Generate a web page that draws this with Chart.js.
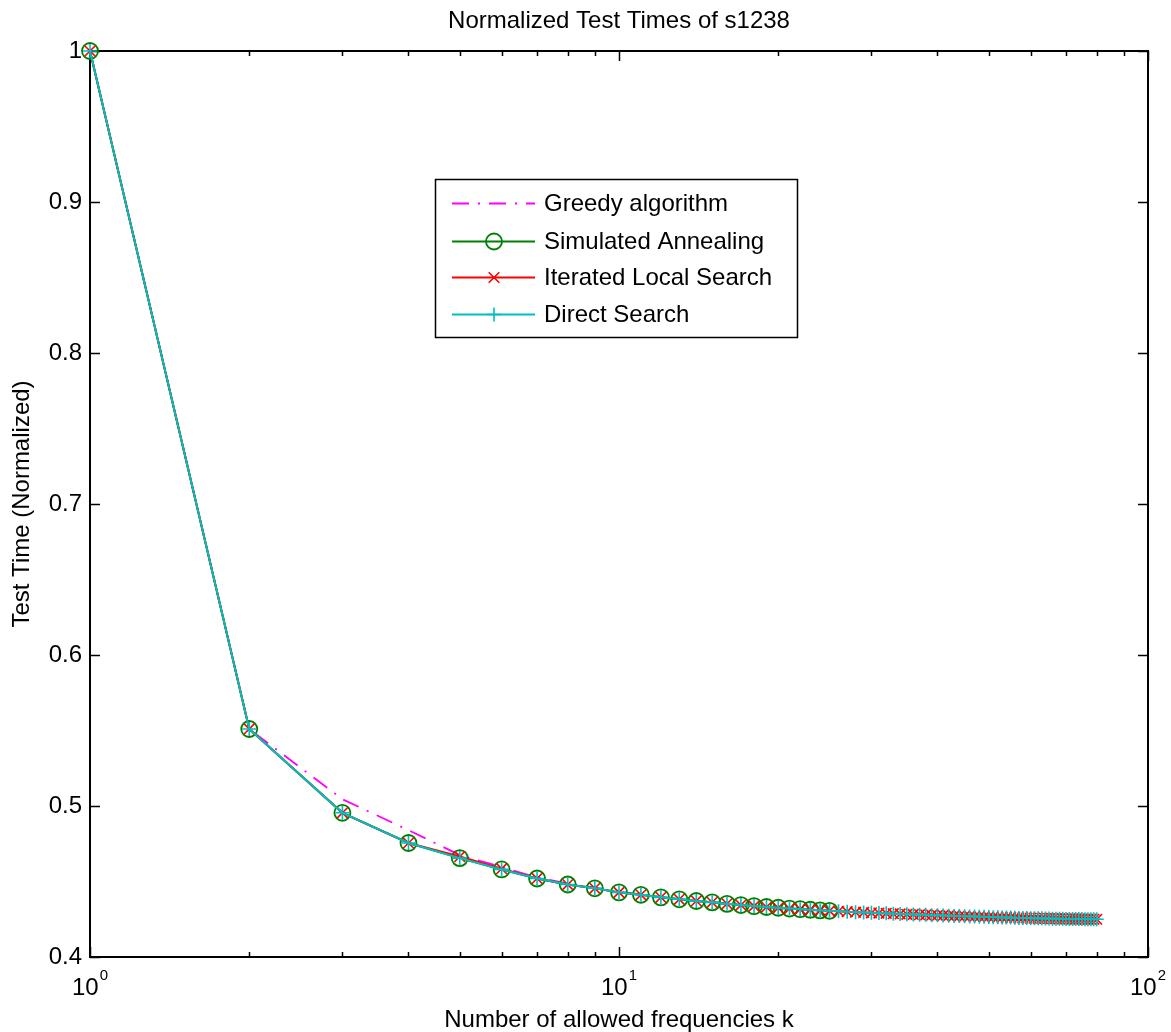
<!DOCTYPE html>
<html>
<head>
<meta charset="utf-8">
<script src="https://cdn.jsdelivr.net/npm/chart.js@4.4.1/dist/chart.umd.min.js"></script>
<style>
html,body{margin:0;padding:0;background:#fff;}
#wrap{width:1171px;height:1032px;}
</style>
</head>
<body>
<div id="wrap"><canvas id="c" width="1171" height="1032"></canvas></div>
<script>
const chartTitle = 'Normalized Test Times of s1238';
const xAxisTitle = 'Number of allowed frequencies k';
const yAxisTitle = 'Test Time (Normalized)';
const seriesNames = ['Greedy algorithm', 'Simulated Annealing', 'Iterated Local Search', 'Direct Search'];

const kValues = [1,2,3,4,5,6,7,8,9,10,11,12,13,14,15,16,17,18,19,20,
  21,22,23,24,25,26,27,28,29,30,31,32,33,34,35,36,37,38,39,40,
  41,42,43,44,45,46,47,48,49,50,51,52,53,54,55,56,57,58,59,60,
  61,62,63,64,65,66,67,68,69,70,71,72,73,74,75,76,77,78,79,80];

const greedyValues = [1.0,0.551,0.5045,0.484,0.4675,0.4596,0.4527,0.4486,0.4460,0.4432,
  0.4415,0.4395,0.4382,0.4371,0.4362,0.4352,0.4344,0.4337,0.4331,0.4326,
  0.4321,0.4317,0.4313,0.4309,0.4306,0.4303,0.4300,0.4297,0.4295,0.4293,
  0.4291,0.4289,0.4287,0.4285,0.4283,0.4282,0.4280,0.4279,0.4277,0.4276,
  0.4275,0.4274,0.4272,0.4271,0.4270,0.4269,0.4268,0.4267,0.4266,0.4265,
  0.4264,0.4263,0.4262,0.4262,0.4261,0.4260,0.4259,0.4259,0.4258,0.4257,
  0.4257,0.4256,0.4256,0.4255,0.4255,0.4254,0.4254,0.4253,0.4253,0.4252,
  0.4252,0.4252,0.4251,0.4251,0.4251,0.4250,0.4250,0.4250,0.4250,0.4250];

const saValues = [1.0,0.551,0.4955,0.4755,0.4655,0.458,0.452,0.448,0.4455,0.4428,
  0.4412,0.4395,0.4382,0.4371,0.4362,0.4352,0.4344,0.4337,0.4331,0.4326,
  0.4321,0.4317,0.4313,0.4309,0.4306];

const ilsValues = [1.0,0.551,0.4955,0.4755,0.4665,0.4585,0.452,0.448,0.4455,0.4428,
  0.4412,0.4395,0.4382,0.4371,0.4362,0.4352,0.4344,0.4337,0.4331,0.4326,
  0.4321,0.4317,0.4313,0.4309,0.4306,0.4303,0.4300,0.4297,0.4295,0.4293,
  0.4291,0.4289,0.4287,0.4285,0.4283,0.4282,0.4280,0.4279,0.4277,0.4276,
  0.4275,0.4274,0.4272,0.4271,0.4270,0.4269,0.4268,0.4267,0.4266,0.4265,
  0.4264,0.4263,0.4262,0.4262,0.4261,0.4260,0.4259,0.4259,0.4258,0.4257,
  0.4257,0.4256,0.4256,0.4255,0.4255,0.4254,0.4254,0.4253,0.4253,0.4252,
  0.4252,0.4252,0.4251,0.4251,0.4251,0.4250,0.4250,0.4250,0.4250,0.4250];

const dsValues = [1.0,0.551,0.4955,0.4755,0.4655,0.458,0.452,0.448,0.4455,0.4428,
  0.4412,0.4395,0.4382,0.4371,0.4362,0.4352,0.4344,0.4337,0.4331,0.4326,
  0.4321,0.4317,0.4313,0.4309,0.4306,0.4303,0.4300,0.4297,0.4295,0.4293,
  0.4291,0.4289,0.4287,0.4285,0.4283,0.4282,0.4280,0.4279,0.4277,0.4276,
  0.4275,0.4274,0.4272,0.4271,0.4270,0.4269,0.4268,0.4267,0.4266,0.4265,
  0.4264,0.4263,0.4262,0.4262,0.4261,0.4260,0.4259,0.4259,0.4258,0.4257,
  0.4257,0.4256,0.4256,0.4255,0.4255,0.4254,0.4254,0.4253,0.4253,0.4252,
  0.4252,0.4252,0.4251,0.4251,0.4251,0.4250,0.4250,0.4250,0.4250,0.4250];

const yTickValues = [0.4,0.5,0.6,0.7,0.8,0.9,1.0];
const yTickLabels = ['0.4','0.5','0.6','0.7','0.8','0.9','1'];
const xMajorTicks = [1,10,100];
const xTickBase = '10';
const xTickExponents = ['0','1','2'];
const xMinorTicks = [2,3,4,5,6,7,8,9,20,30,40,50,60,70,80,90];

const FONT = "'Liberation Sans', Arial, Helvetica, sans-serif";
const C_MAGENTA = 'rgb(255,0,255)';
const C_GREEN = 'rgb(0,128,0)';
const C_RED = 'rgb(255,0,0)';
const C_CYAN = 'rgb(0,191,191)';

function pts(vals){ return vals.map((v,i)=>({x:kValues[i], y:v})); }

const datasets = [
  {label: seriesNames[0], data: pts(greedyValues), borderColor: C_MAGENTA, borderWidth: 1.8,
   borderDash: [17,9,2,9], pointRadius: 0, order: 4, showLine: true, clip: false},
  {label: seriesNames[1], data: pts(saValues), borderColor: C_GREEN, borderWidth: 2,
   pointStyle: 'circle', pointRadius: 8, pointBorderWidth: 1.8, pointBackgroundColor: 'rgba(0,0,0,0)',
   pointBorderColor: C_GREEN, order: 3, showLine: true, clip: false},
  {label: seriesNames[2], data: pts(ilsValues), borderColor: C_RED, borderWidth: 2,
   pointStyle: 'crossRot', pointRadius: 7.5, pointBorderWidth: 1.6, pointBorderColor: C_RED,
   order: 2, showLine: true, clip: false},
  {label: seriesNames[3], data: pts(dsValues), borderColor: C_CYAN, borderWidth: 2,
   pointStyle: 'cross', pointRadius: 7, pointBorderWidth: 1.6, pointBorderColor: C_CYAN,
   order: 1, showLine: true, clip: false}
];

const framePlugin = {
  id: 'frame',
  beforeDatasetsDraw(chart){
    const {ctx, chartArea: a, scales: {x, y}} = chart;
    ctx.save();
    ctx.strokeStyle = '#000';
    ctx.lineWidth = 1.5;
    ctx.beginPath();
    yTickValues.forEach(v=>{
      const py = Math.round(y.getPixelForValue(v)) + 0.5;
      ctx.moveTo(a.left, py); ctx.lineTo(a.left + 10, py);
      ctx.moveTo(a.right, py); ctx.lineTo(a.right - 10, py);
    });
    xMajorTicks.forEach(v=>{
      const px = Math.round(x.getPixelForValue(v)) + 0.5;
      ctx.moveTo(px, a.bottom); ctx.lineTo(px, a.bottom - 10);
      ctx.moveTo(px, a.top); ctx.lineTo(px, a.top + 10);
    });
    xMinorTicks.forEach(v=>{
      const px = Math.round(x.getPixelForValue(v)) + 0.5;
      ctx.moveTo(px, a.bottom); ctx.lineTo(px, a.bottom - 5);
      ctx.moveTo(px, a.top); ctx.lineTo(px, a.top + 5);
    });
    ctx.stroke();
    ctx.lineWidth = 2;
    ctx.strokeRect(a.left, a.top, a.right - a.left, a.bottom - a.top);
    ctx.restore();
  },
  afterDraw(chart){
    const {ctx, chartArea: a, scales: {x}} = chart;
    ctx.save();
    ctx.fillStyle = '#000';
    ctx.textBaseline = 'alphabetic';
    ctx.textAlign = 'left';
    xMajorTicks.forEach((v,i)=>{
      const px = x.getPixelForValue(v);
      ctx.font = '24px ' + FONT;
      const w1 = ctx.measureText(xTickBase).width;
      ctx.font = '15px ' + FONT;
      const w2 = ctx.measureText(xTickExponents[i]).width;
      const start = px - (w1 + w2 + 1) / 2;
      ctx.font = '24px ' + FONT;
      ctx.fillText(xTickBase, start, a.bottom + 38);
      ctx.font = '15px ' + FONT;
      ctx.fillText(xTickExponents[i], start + w1 + 1, a.bottom + 23);
    });
    ctx.restore();
  }
};

const legendPlugin = {
  id: 'mlegend',
  afterDatasetsDraw(chart){
    const ctx = chart.ctx;
    const box = {x: 435.5, y: 179.5, w: 362, h: 158};
    const rowsY = [203, 241, 277, 314];
    const lineX0 = 452, lineX1 = 535, markX = 494, textX = 544;
    ctx.save();
    ctx.fillStyle = '#fff';
    ctx.fillRect(box.x, box.y, box.w, box.h);
    ctx.strokeStyle = '#000';
    ctx.lineWidth = 1.5;
    ctx.strokeRect(box.x, box.y, box.w, box.h);
    chart.data.datasets.forEach((ds, i)=>{
      const yy = rowsY[i] + 0.5;
      ctx.save();
      ctx.strokeStyle = ds.borderColor;
      ctx.lineWidth = ds.borderWidth;
      ctx.setLineDash(ds.borderDash || []);
      ctx.beginPath();
      ctx.moveTo(lineX0, yy); ctx.lineTo(lineX1, yy);
      ctx.stroke();
      ctx.setLineDash([]);
      if (ds.pointRadius) {
        ctx.fillStyle = 'rgba(0,0,0,0)';
        ctx.strokeStyle = ds.pointBorderColor;
        ctx.lineWidth = ds.pointBorderWidth;
        Chart.helpers.drawPoint(ctx, {pointStyle: ds.pointStyle, radius: ds.pointRadius, borderWidth: ds.pointBorderWidth, rotation: 0}, markX, yy);
      }
      ctx.restore();
      ctx.fillStyle = '#000';
      ctx.font = '24px ' + FONT;
      ctx.textBaseline = 'middle';
      ctx.textAlign = 'left';
      ctx.fillText(ds.label, textX, rowsY[i] + 1);
    });
    ctx.restore();
  }
};

new Chart(document.getElementById('c'), {
  type: 'scatter',
  data: {datasets},
  options: {
    responsive: false,
    animation: false,
    events: [],
    layout: {padding: {left: 0, right: 23, top: 0, bottom: 0}},
    plugins: {
      legend: {display: false},
      tooltip: {enabled: false},
      title: {display: true, text: chartTitle, fullSize: false, color: '#000',
        font: {family: FONT, size: 24, weight: 'normal', lineHeight: 1},
        padding: {top: 9, bottom: 18}}
    },
    scales: {
      x: {
        type: 'logarithmic', min: 1, max: 100, position: 'bottom',
        afterBuildTicks(s){ s.ticks = xMajorTicks.map(v=>({value: v})); },
        afterFit(s){ s.height = 75; },
        grid: {display: false, drawTicks: false},
        border: {display: false},
        ticks: {display: false},
        title: {display: true, text: xAxisTitle, color: '#000',
          font: {family: FONT, size: 24, lineHeight: 1}, padding: {top: 0, bottom: 0}}
      },
      y: {
        type: 'linear', min: 0.4, max: 1.0, position: 'left',
        afterBuildTicks(s){ s.ticks = yTickValues.map(v=>({value: v})); },
        afterFit(s){ s.width = 90; },
        grid: {display: false, drawTicks: false},
        border: {display: false},
        ticks: {color: '#000', padding: 8, font: {family: FONT, size: 24},
          callback: (v)=>{ const i = yTickValues.findIndex(t=>Math.abs(t-v)<1e-9); return i>=0 ? yTickLabels[i] : ''; }},
        title: {display: true, text: yAxisTitle, color: '#000',
          font: {family: FONT, size: 24, lineHeight: 1}, padding: {top: 10, bottom: 0}}
      }
    }
  },
  plugins: [framePlugin, legendPlugin]
});
</script>
</body>
</html>
